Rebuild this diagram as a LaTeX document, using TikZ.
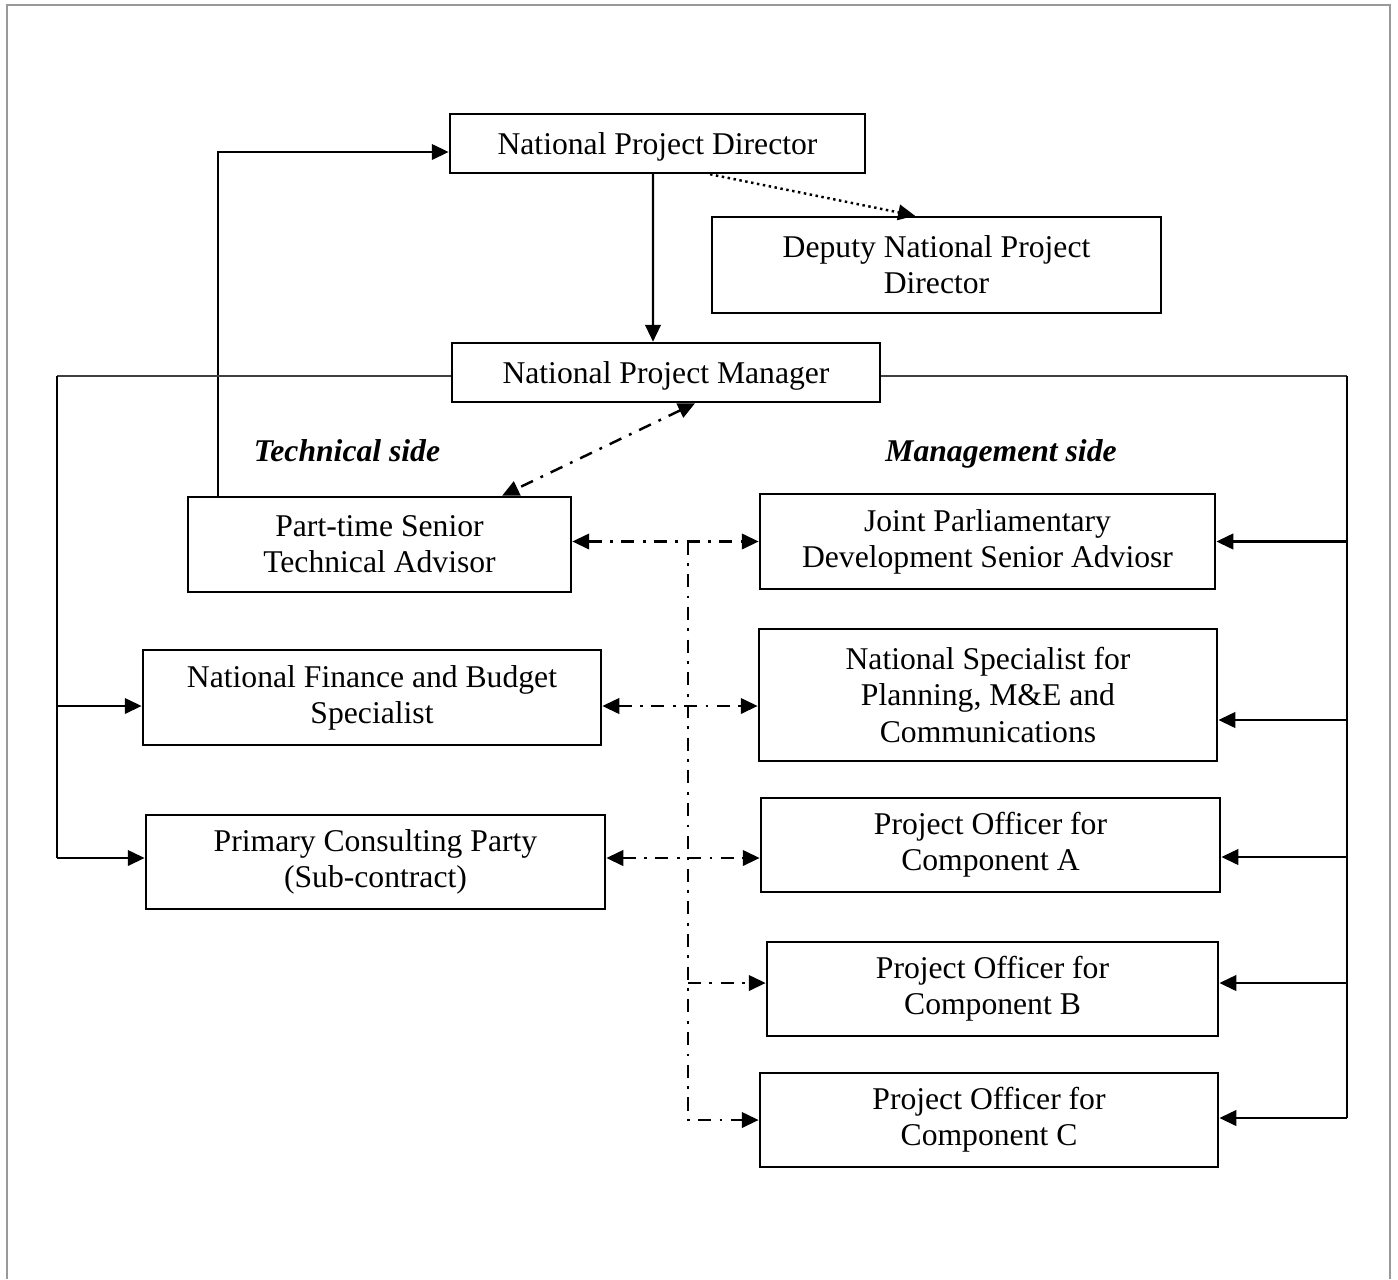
\documentclass[tikz,border=0pt]{standalone}
\usepackage{fontspec}
\setmainfont{Liberation Serif}
\usepackage{tikz}
\usetikzlibrary{arrows.meta}

\begin{document}
\begin{tikzpicture}[x=0.01cm,y=-0.01cm,line width=0.7pt,>={Triangle[length=4.8pt,width=4.4pt]}]
            \tikzstyle{unit}=[rectangle,draw=black,line width=0.7pt,align=center,inner sep=0pt,font=\fontsize{9pt}{10.3pt}\selectfont]
            \tikzstyle{side}=[anchor=base,font=\fontsize{9pt}{10.3pt}\selectfont\bfseries\itshape]
            \tikzstyle{dashdot}=[dash pattern=on 3.7pt off 2.4pt on 0.8pt off 2.4pt]
            \tikzstyle{dotline}=[dash pattern=on 0.7pt off 1pt]
                \useasboundingbox (0,0) rectangle (1398,1279);
                \draw[gray!80,line width=0.6pt] (7,1279) -- (7,5) -- (1390,5) -- (1390,1279);

                \node[unit,text depth=0pt,minimum width=41.5mm,minimum height=5.9mm] (B-1) at (657.5,143.5) {National Project Director};
                \node[unit,minimum width=44.9mm,minimum height=9.6mm] (B-2) at (936.5,265) {Deputy National Project\\Director};
                \node[unit,text depth=0pt,minimum width=42.8mm,minimum height=5.9mm] (B-3) at (666,372.5) {National Project Manager};

                \node[side] (T-1) at (347,461) {Technical side};
                \node[side] (T-2) at (1001,461) {Management side};

                \node[unit,minimum width=38.3mm,minimum height=9.5mm] (B-4) at (379.5,544.5) {Part-time Senior\\Technical Advisor};
                \node[unit,minimum width=45.8mm,minimum height=9.5mm] (B-5) at (372,697.5) {National Finance and Budget\\Specialist};
                \node[unit,minimum width=45.9mm,minimum height=9.4mm] (B-6) at (375.5,862) {Primary Consulting Party\\(Sub-contract)};

                \node[unit,minimum width=45.5mm,minimum height=9.5mm] (B-7) at (987.5,541.5) {Joint Parliamentary\\Development Senior Adviosr};
                \node[unit,minimum width=45.8mm,minimum height=13.2mm] (B-8) at (988,695) {National Specialist for\\Planning, M\&E and\\Communications};
                \node[unit,minimum width=45.9mm,minimum height=9.4mm] (B-9) at (990.5,845) {Project Officer for\\Component A};
                \node[unit,minimum width=45.1mm,minimum height=9.4mm] (B-10) at (992.5,989) {Project Officer for\\Component B};
                \node[unit,minimum width=45.8mm,minimum height=9.4mm] (B-11) at (989,1120) {Project Officer for\\Component C};

                % side rails
                \coordinate (L-0) at (57,376);
                \coordinate (L-1) at (57,706);
                \coordinate (L-2) at (57,858);
                \coordinate (R-0) at (1347,376);
                \coordinate (R-1) at (1347,541.5);
                \coordinate (R-2) at (1347,720);
                \coordinate (R-3) at (1347,857);
                \coordinate (R-4) at (1347,983);
                \coordinate (R-5) at (1347,1118);
                \coordinate (M-1) at (688,541.5);
                \coordinate (M-2) at (688,983);
                \coordinate (M-3) at (688,1120);

                \draw[->] ([xshift=-0.45mm]B-1.south) -- ([xshift=-1.3mm]B-3.north);
                \draw[->,dotline] ([xshift=5.25mm]B-1.south) -- ([xshift=-2.15mm]B-2.north);
                \draw[->] ([xshift=-16.15mm]B-4.north) |- ([yshift=-0.85mm]B-1.west);
                \draw[<->,dashdot] ([xshift=2.9mm]B-3.south) -- ([xshift=12.25mm]B-4.north);

                \draw[black!75,line width=0.4pt] (B-3.west |- L-0) -- (L-0);
                \draw[black!75,line width=0.4pt] (B-3.east |- R-0) -- (R-0);
                \draw (L-0) -- (L-2);
                \draw (R-0) -- (R-5);
                \draw[->] (L-1) -- (L-1 -| B-5.west);
                \draw[->] (L-2) -- (L-2 -| B-6.west);
                \foreach \from/\to in {1/7, 2/8, 3/9, 4/10, 5/11}
                    \draw[->] (R-\from) -- (R-\from -| B-\to.east);

                \draw[<->,dashdot] (B-7.west -| B-4.east) -- (B-7.west);
                \draw[<->,dashdot] (L-1 -| B-5.east) -- (L-1 -| B-8.west);
                \draw[<->,dashdot] (L-2 -| B-6.east) -- (L-2 -| B-9.west);
                \draw[->,dashdot] (M-1) -- (M-3) -- (M-3 -| B-11.west);
                \draw[->,dashdot] (M-2) -- (M-2 -| B-10.west);
        \end{tikzpicture}
\end{document}
